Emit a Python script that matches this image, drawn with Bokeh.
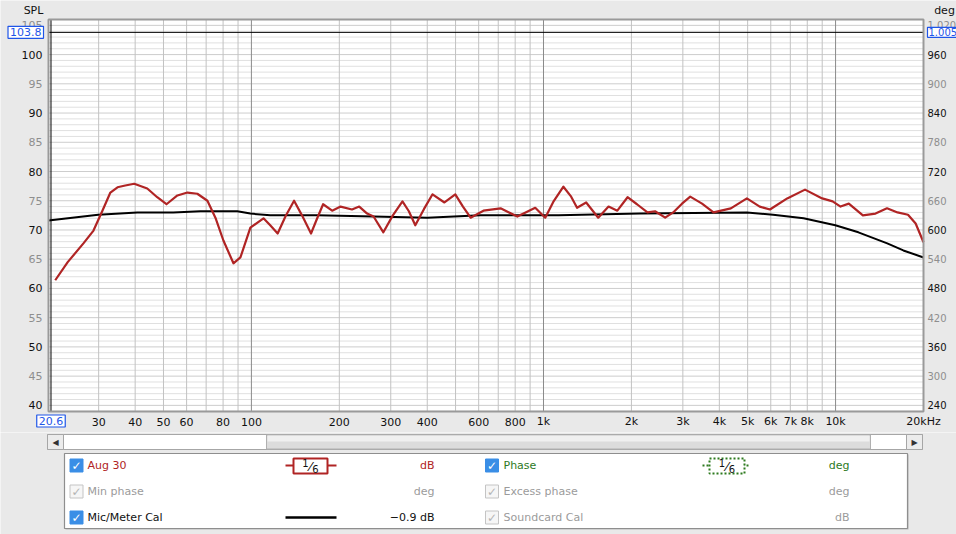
import numpy as np
from bokeh.plotting import figure
from bokeh.models import Range1d, Label, LabelSet, ColumnDataSource
from bokeh.layouts import column
from bokeh.embed import file_html
from bokeh.resources import INLINE
from bokeh.core.properties import value

# ---------------- data ----------------
aug30_freq = [21.3, 23.5, 26.6, 28.8, 30.9, 32.9, 34.8, 37.0, 39.7, 44.0, 47.6, 51.2,
              55.8, 60.4, 65.3, 70.7, 75.3, 80.2, 86.8, 91.7, 99.2, 110, 116, 123,
              131, 140, 149, 160, 168, 176, 189, 202, 221, 234, 249, 262, 283, 305,
              329, 346, 364, 390, 417, 458, 499, 530, 563, 623, 713, 814, 937, 1014,
              1080, 1170, 1240, 1303, 1400, 1540, 1670, 1790, 1940, 2090, 2270, 2410,
              2610, 2780, 2980, 3180, 3490, 3820, 4380, 4970, 5500, 5960, 6830, 7860,
              9000, 9770, 10400, 11100, 12400, 13700, 15000, 16300, 17700, 18800, 20000]
aug30_db = [61.4, 64.5, 67.7, 69.9, 73.3, 76.4, 77.3, 77.6, 77.9, 77.1, 75.6, 74.4,
            75.9, 76.4, 76.2, 75.0, 72.1, 68.2, 64.3, 65.3, 70.4, 72.0, 70.8, 69.4,
            72.4, 75.0, 72.5, 69.4, 72.0, 74.4, 73.3, 74.0, 73.5, 74.0, 72.8, 72.3,
            69.6, 72.5, 74.9, 73.2, 70.8, 73.6, 76.1, 74.7, 76.1, 74.0, 72.1, 73.3,
            73.7, 72.3, 73.8, 72.1, 74.8, 77.4, 75.8, 73.8, 74.7, 72.1, 74.0, 73.3,
            75.6, 74.4, 73.0, 73.2, 72.1, 73.0, 74.5, 75.7, 74.5, 73.0, 73.7, 75.4,
            74.0, 73.5, 75.4, 76.9, 75.4, 74.9, 74.0, 74.5, 72.5, 72.8, 73.7, 73.0,
            72.6, 71.1, 67.9]

cal_freq = [20.2, 29.9, 40.7, 54.0, 66.9, 89.5, 99.2, 116, 168, 262, 400, 609,
            1126, 2140, 4970, 6110, 7770, 9980, 11970, 15030, 17060, 20000]
cal_db = [71.6, 72.6, 73.0, 73.0, 73.2, 73.2, 72.8, 72.5, 72.5, 72.3, 72.1, 72.5,
          72.5, 72.8, 73.0, 72.6, 72.0, 70.8, 69.6, 67.7, 66.5, 65.3]

x_tick_values = [30, 40, 50, 60, 80, 100, 200, 300, 400, 600, 800, 1000, 2000,
                 3000, 4000, 5000, 6000, 7000, 8000, 10000, 20000]
x_tick_labels = ["30", "40", "50", "60", "80", "100", "200", "300", "400", "600",
                 "800", "1k", "2k", "3k", "4k", "5k", "6k", "7k", "8k", "10k", "20kHz"]
x_decades = [100, 1000, 10000]

spl_ticks = [40, 45, 50, 55, 60, 65, 70, 75, 80, 85, 90, 95, 100, 105]
deg_ticks = [240, 300, 360, 420, 480, 540, 600, 660, 720, 780, 840, 900, 960, 1020]
deg_labels = ["240", "300", "360", "420", "480", "540", "600", "660", "720", "780",
              "840", "900", "960", "1.020"]

cursor_freq = 20.6
cursor_spl = 103.8
cursor_deg_text = "1.005"

legend_names_left = ["Aug 30", "Min phase", "Mic/Meter Cal"]
legend_units_left = ["dB", "deg", "\u22120.9 dB"]
legend_names_right = ["Phase", "Excess phase", "Soundcard Cal"]
legend_units_right = ["deg", "deg", "dB"]

# ---------------- style / geometry ----------------
FONT = "DejaVu Sans"
BG = "#e9e9e9"
RED = "#b02424"
GREEN = "#2d7a1e"
GRAY_TXT = "#9b9b9b"
TICK_GRAY = "#8e8e8e"
CURSOR_BLUE = "#1f55e8"
CHECK_BLUE = "#3a8ee6"

W, H1, H2 = 956, 432, 102
FL, FR, FT, FB = 48, 923, 19, 411          # plot-area box in pixels
X0, X1 = 20.2, 20000.0
Y0, Y1 = 38.95, 106.0
DEC = (FR - FL) / np.log10(X1 / X0)
PX = (FB - FT) / (Y1 - Y0)
xs, xe = X0 / 10 ** (FL / DEC), X1 * 10 ** ((W - FR) / DEC)
ys, ye = Y0 - (H1 - FB) / PX, Y1 + FT / PX
deg_of = lambda db: 240 + (db - 40) * 12

p = figure(width=W, height=H1, x_axis_type="log",
           x_range=Range1d(xs, xe), y_range=Range1d(ys, ye),
           output_backend="svg", toolbar_location=None,
           min_border=0, min_border_left=0, min_border_right=0,
           min_border_top=0, min_border_bottom=0,
           x_axis_location=None, y_axis_location=None,
           background_fill_color=BG, border_fill_color=BG, outline_line_color=None)
p.grid.visible = False
p.extra_y_ranges = {"deg": Range1d(deg_of(ys), deg_of(ye))}

# plot area
p.quad(left=X0, right=X1, bottom=Y0, top=Y1, fill_color="white", line_color=None)

# grid lines
fine_y = [v for v in range(39, 107) if v % 5]
five_y = list(range(40, 106, 5))
minor_x = [m * 10 ** d for d in range(1, 5) for m in range(2, 10)
           if X0 <= m * 10 ** d <= X1]
p.segment(x0=X0, x1=X1, y0=fine_y, y1=fine_y, line_color="#e0e0e0", line_width=1)
p.segment(x0=X0, x1=X1, y0=five_y, y1=five_y, line_color="#cdcdcd", line_width=1)
p.segment(x0=minor_x, x1=minor_x, y0=Y0, y1=Y1, line_color="#c2c2c2", line_width=1)
p.segment(x0=x_decades, x1=x_decades, y0=Y0, y1=Y1, line_color="#8a8a8a", line_width=1)

# cursor lines
p.segment(x0=X0, x1=X1, y0=cursor_spl, y1=cursor_spl, line_color="black", line_width=1)
p.segment(x0=cursor_freq, x1=cursor_freq, y0=Y0, y1=Y1, line_color="black", line_width=1)

# curves
p.line(cal_freq, cal_db, line_color="black", line_width=2, line_join="round")
p.line(aug30_freq, aug30_db, line_color=RED, line_width=2.2, line_join="round")

# frame border
p.quad(left=X0, right=X1, bottom=Y0, top=Y1, fill_alpha=0, line_color="#9a9a9a",
       line_width=2)

txt = dict(text_font=value(FONT), text_font_size="11px", text_baseline="middle")

# SPL tick labels (left)
src_l = ColumnDataSource(dict(
    y=spl_ticks, t=[str(v) for v in spl_ticks],
    c=["#111111" if v % 10 == 0 else TICK_GRAY for v in spl_ticks]))
p.add_layout(LabelSet(x=X0, y="y", text="t", source=src_l, x_offset=-6,
                      text_align="right", text_color="c", **txt))
# deg tick labels (right)
src_r = ColumnDataSource(dict(
    y=deg_ticks, t=deg_labels,
    c=["#111111" if (d - 240) % 120 == 0 else TICK_GRAY for d in deg_ticks]))
p.add_layout(LabelSet(x=X1, y="y", text="t", source=src_r, x_offset=4,
                      y_range_name="deg", text_align="left", text_color="c",
                      text_font=value(FONT), text_font_size="10px",
                      text_baseline="middle"))
# frequency tick labels (bottom)
src_b = ColumnDataSource(dict(x=x_tick_values, t=x_tick_labels))
p.add_layout(LabelSet(x="x", y=Y0 - 10 / PX, text="t", source=src_b,
                      text_align="center", text_color="#111111", **txt))

# axis titles
p.add_layout(Label(x=X0, x_offset=-15, y=Y1 + 9 / PX, text="SPL", text_align="center",
                   text_color="#111111", text_font=FONT, text_font_size="11px",
                   text_baseline="middle"))
p.add_layout(Label(x=X1, x_offset=21, y=Y1 + 9 / PX, text="deg", text_align="center",
                   text_color="#111111", text_font=FONT, text_font_size="11px",
                   text_baseline="middle"))

# cursor value boxes
box_kw = dict(text_font=FONT, text_font_size="11px", text_color=CURSOR_BLUE,
              border_line_color=CURSOR_BLUE, border_line_width=1.2,
              background_fill_color="white", text_baseline="middle", padding=2)
p.add_layout(Label(x=X0, x_offset=-5, y=cursor_spl, text=f"{cursor_spl}",
                   text_align="right", **box_kw))
box_r = dict(box_kw, text_font_size="10px", padding=1)
p.add_layout(Label(x=X1, x_offset=4, y=cursor_spl, text=cursor_deg_text,
                   text_align="left", **box_r))
p.add_layout(Label(x=cursor_freq, y=Y0 - 9.5 / PX, text=f"{cursor_freq}",
                   text_align="center", **box_kw))

# ---------------- bottom panel (scrollbar + legend) ----------------
q = figure(width=W, height=H2, x_range=Range1d(0, W), y_range=Range1d(H1 + H2, H1),
           output_backend="svg", toolbar_location=None, min_border=0,
           min_border_left=0, min_border_right=0, min_border_top=0, min_border_bottom=0,
           x_axis_location=None, y_axis_location=None,
           background_fill_color=BG, border_fill_color=BG, outline_line_color=None)
q.grid.visible = False

# scrollbar
q.quad(left=47, right=922, top=434, bottom=449, fill_color="white", line_color="#a6a6a6")
q.quad(left=266, right=870, top=434.5, bottom=448.5, fill_color="#dcdcdc", line_color="#b0b0b0")
q.quad(left=267, right=869, top=435, bottom=441, fill_color="#f0f0f0", line_color=None)
q.quad(left=[47, 906], right=[63, 922], top=434, bottom=449, fill_color="#ececec",
       line_color="#a6a6a6")
q.text(x=[55, 914], y=[441.5, 441.5], text=["\u25C0", "\u25B6"], text_align="center",
       text_baseline="middle", text_font=value(FONT), text_font_size="8px", text_color="#333333")

# legend box
q.quad(left=65, right=908, top=454, bottom=529, fill_color="#b8b8b8", line_color=None)
q.quad(left=64, right=907, top=453, bottom=528, fill_color="white", line_color="#8e8e8e",
       line_width=1.2)

rows = [465, 491, 517]
left_enabled = [True, False, True]
right_enabled = [True, False, False]
left_colors = [RED, GRAY_TXT, "#111111"]
right_colors = [GREEN, GRAY_TXT, GRAY_TXT]
for cx, en in ((76, left_enabled), (491.5, right_enabled)):
    q.rect(x=[cx] * 3, y=rows, width=13, height=13,
           fill_color=[CHECK_BLUE if e else "#f6f6f6" for e in en],
           line_color=[CHECK_BLUE if e else "#c4c4c4" for e in en])
    q.text(x=[cx] * 3, y=[r + 0.5 for r in rows], text=["\u2713"] * 3,
           text_align="center", text_baseline="middle", text_font=value(FONT),
           text_font_size="12px", text_font_style="bold",
           text_color=["white" if e else "#b4b4b4" for e in en])

q.text(x=[87] * 3, y=rows, text=legend_names_left, text_color=left_colors,
       text_baseline="middle", text_font=value(FONT), text_font_size="11px")
q.text(x=[434] * 3, y=rows, text=legend_units_left, text_color=left_colors,
       text_align="right", text_baseline="middle", text_font=value(FONT), text_font_size="11px")
q.text(x=[503] * 3, y=rows, text=legend_names_right, text_color=right_colors,
       text_baseline="middle", text_font=value(FONT), text_font_size="11px")
q.text(x=[849] * 3, y=rows, text=legend_units_right, text_color=right_colors,
       text_align="right", text_baseline="middle", text_font=value(FONT), text_font_size="11px")

# sample line: Aug 30
q.segment(x0=285, y0=465, x1=336, y1=465, line_color=RED, line_width=2)
q.quad(left=293, right=327, top=458, bottom=473, fill_color="white", line_color=RED,
       line_width=2)
# sample line: Phase (dotted)
q.segment(x0=702, y0=465, x1=748, y1=465, line_color=GREEN, line_width=2, line_dash="2 2")
q.quad(left=709, right=744, top=458, bottom=473, fill_color="white", line_color=GREEN,
       line_width=2, line_dash="2 2")
for cx in (310, 726.5):
    q.text(x=[cx - 5, cx + 5], y=[462.5, 468], text=["1", "6"], text_align="center",
           text_baseline="middle", text_font=value(FONT), text_font_size="10px",
           text_color="#111111")
    q.text(x=[cx], y=[465.5], text=["\u2044"], text_align="center",
           text_baseline="middle", text_font=value(FONT), text_font_size="13px",
           text_color="#111111")
# sample line: Mic/Meter Cal
q.segment(x0=285, y0=517, x1=336, y1=517, line_color="black", line_width=2.5)

layout = column(p, q, spacing=0)
open("out.html", "w").write(file_html(layout, INLINE))
